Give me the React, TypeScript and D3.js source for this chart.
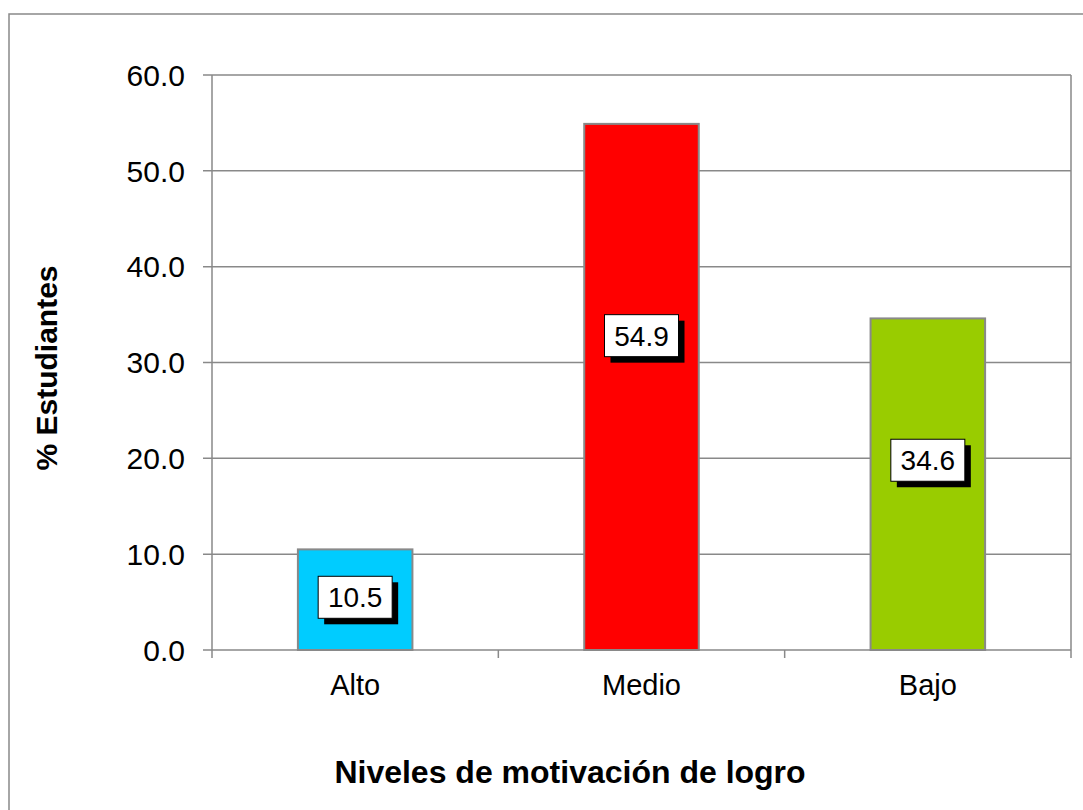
import React from "react";
import { scaleBand, scaleLinear, range } from "d3";

const categories = ["Alto", "Medio", "Bajo"];
const values = [10.5, 54.9, 34.6];
const labelAt = [5.5, 32.8, 19.8];
const colors = ["#00CCFF", "#FF0000", "#99CC00"];
const yTicks = [0, 10, 20, 30, 40, 50, 60];

const width = 1083;
const height = 810;
const margin = { top: 75, right: 12, bottom: 160, left: 212 };
const innerWidth = width - margin.left - margin.right;
const innerHeight = height - margin.top - margin.bottom;

const font = "'Liberation Sans', Arial, sans-serif";
const grey = "#898989";

const App = () => {
  const xScale = scaleBand()
    .domain(categories)
    .range([0, innerWidth])
    .paddingInner(0.6)
    .paddingOuter(0.3);

  const yScale = scaleLinear().domain([0, 60]).range([innerHeight, 0]);

  const step = xScale.step();
  const boundaries = range(categories.length + 1).map(i => i * step);

  return (
    <svg
      width={width}
      height={height}
      style={{ position: "absolute", left: 0, top: 0, background: "#fff" }}
    >
      <rect x={9} y={14} width={1100} height={820} fill="#fff" stroke={grey} strokeWidth={1.5} />
      <g transform={`translate(${margin.left},${margin.top})`}>
        {/* gridlines + y ticks */}
        {yTicks.map(t => (
          <g key={t} transform={`translate(0,${yScale(t)})`}>
            <line x1={-9} x2={innerWidth} stroke={grey} strokeWidth={1.5} />
            <text
              x={-27}
              dy="0.36em"
              textAnchor="end"
              fontFamily={font}
              fontSize={30}
              fill="#000"
            >
              {t.toFixed(1)}
            </text>
          </g>
        ))}
        <line x1={innerWidth} x2={innerWidth} y1={0} y2={innerHeight} stroke={grey} strokeWidth={1.5} />
        <line x1={0} x2={0} y1={0} y2={innerHeight} stroke={grey} strokeWidth={1.5} />
        {boundaries.map((b, i) => (
          <line key={i} x1={b} x2={b} y1={innerHeight} y2={innerHeight + 8} stroke={grey} strokeWidth={1.5} />
        ))}

        {/* bars */}
        {categories.map((c, i) => (
          <rect
            key={c}
            x={xScale(c)}
            y={yScale(values[i])}
            width={xScale.bandwidth()}
            height={innerHeight - yScale(values[i])}
            fill={colors[i]}
            stroke={grey}
            strokeWidth={2}
          />
        ))}

        {/* value labels */}
        {categories.map((c, i) => {
          const cx = (xScale(c) as number) + xScale.bandwidth() / 2;
          const cy = yScale(labelAt[i]);
          const w = 74;
          const h = 42;
          return (
            <g key={c}>
              <rect x={cx - w / 2 + 6} y={cy - h / 2 + 6} width={w} height={h} fill="#000" />
              <rect x={cx - w / 2} y={cy - h / 2} width={w} height={h} fill="#fff" stroke="#000" strokeWidth={1} />
              <text
                x={cx}
                y={cy}
                dy="0.36em"
                textAnchor="middle"
                fontFamily={font}
                fontSize={28}
                fill="#000"
              >
                {values[i].toFixed(1)}
              </text>
            </g>
          );
        })}

        {/* category labels */}
        {categories.map(c => (
          <text
            key={c}
            x={(xScale(c) as number) + xScale.bandwidth() / 2}
            y={innerHeight + 45}
            textAnchor="middle"
            fontFamily={font}
            fontSize={29}
            fill="#000"
          >
            {c}
          </text>
        ))}
      </g>

      {/* axis titles */}
      <text
        x={570}
        y={783}
        textAnchor="middle"
        fontFamily={font}
        fontSize={32}
        fontWeight="bold"
        fill="#000"
      >
        Niveles de motivación de logro
      </text>
      <text
        transform="translate(57,368) rotate(-90)"
        textAnchor="middle"
        fontFamily={font}
        fontSize={30}
        fontWeight="bold"
        fill="#000"
      >
        % Estudiantes
      </text>
    </svg>
  );
};

export default App;
